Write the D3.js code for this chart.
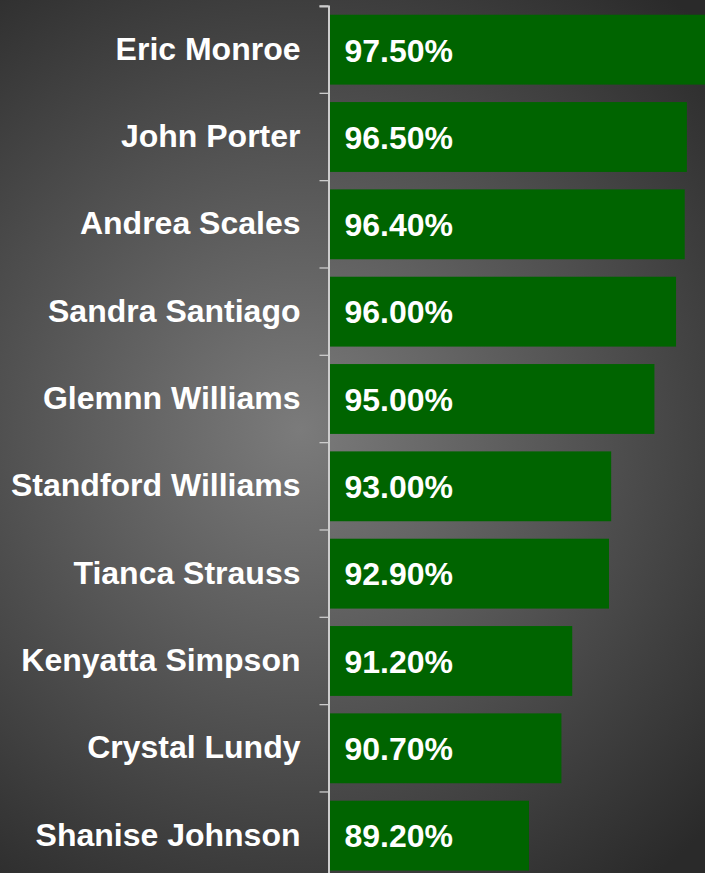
<!DOCTYPE html>
<html>
<head>
<meta charset="utf-8">
<script src="https://cdn.jsdelivr.net/npm/d3@7"></script>
<style>
  html, body { margin: 0; padding: 0; overflow: hidden; background: #2b2b2b; }
  svg { display: block; }
  .axis path, .axis line { stroke: #cccccc; }
  .axis text { fill: #ffffff; font-family: "Liberation Sans", Arial, sans-serif; font-weight: bold; font-size: 32px; }
  .value { fill: #ffffff; font-family: "Liberation Sans", Arial, sans-serif; font-weight: bold; font-size: 32px; }
</style>
</head>
<body>
<div id="chart"></div>
<script>
// chart data
var names = ["Eric Monroe", "John Porter", "Andrea Scales", "Sandra Santiago", "Glemnn Williams",
             "Standford Williams", "Tianca Strauss", "Kenyatta Simpson", "Crystal Lundy", "Shanise Johnson"];
var scores = [97.5, 96.5, 96.4, 96.0, 95.0, 93.0, 92.9, 91.2, 90.7, 89.2];
var scoreDomain = [80, 97.5];

var W = 705, H = 873;
var margin = {top: 6, left: 328.5};

var svg = d3.select("#chart").append("svg")
    .attr("width", W)
    .attr("height", H);

// radial background
var defs = svg.append("defs");
var grad = defs.append("radialGradient")
    .attr("id", "bg")
    .attr("gradientUnits", "userSpaceOnUse")
    .attr("cx", 300).attr("cy", 430).attr("r", 570);
grad.append("stop").attr("offset", "0%").attr("stop-color", "#7b7b7b");
grad.append("stop").attr("offset", "100%").attr("stop-color", "#2a2a2a");

svg.append("rect")
    .attr("width", W).attr("height", H)
    .attr("fill", "url(#bg)");

var y = d3.scaleBand()
    .domain(names)
    .range([margin.top, margin.top + 87.33 * names.length])
    .paddingInner(0.2)
    .paddingOuter(0.1);

var x = d3.scaleLinear()
    .domain(scoreDomain)
    .range([330, 708.5]);

var yAxis = d3.axisLeft(y)
    .tickSize(9)
    .tickPadding(19);

// ticks sit on band boundaries, not centres
var gAxis = svg.append("g")
    .attr("class", "axis")
    .attr("transform", "translate(" + margin.left + ",0)")
    .call(yAxis);

gAxis.select(".domain").attr("stroke-width", 2);
gAxis.selectAll(".tick line")
    .attr("stroke-width", 1.3)
    .attr("y1", -y.step() / 2)
    .attr("y2", -y.step() / 2);
gAxis.selectAll(".tick text").attr("dy", "0.31em");

var bars = svg.selectAll("g.bar")
    .data(names)
    .enter().append("g")
    .attr("class", "bar");

bars.append("rect")
    .attr("x", x(scoreDomain[0]))
    .attr("y", function(d) { return y(d); })
    .attr("height", y.bandwidth())
    .attr("width", function(d, i) { return x(scores[i]) - x(scoreDomain[0]); })
    .attr("fill", "#006400");

bars.append("text")
    .attr("class", "value")
    .attr("x", x(scoreDomain[0]) + 14.5)
    .attr("y", function(d) { return y(d) + y.bandwidth() / 2; })
    .attr("dy", "0.37em")
    .text(function(d, i) { return scores[i].toFixed(2) + "%"; });
</script>
</body>
</html>
